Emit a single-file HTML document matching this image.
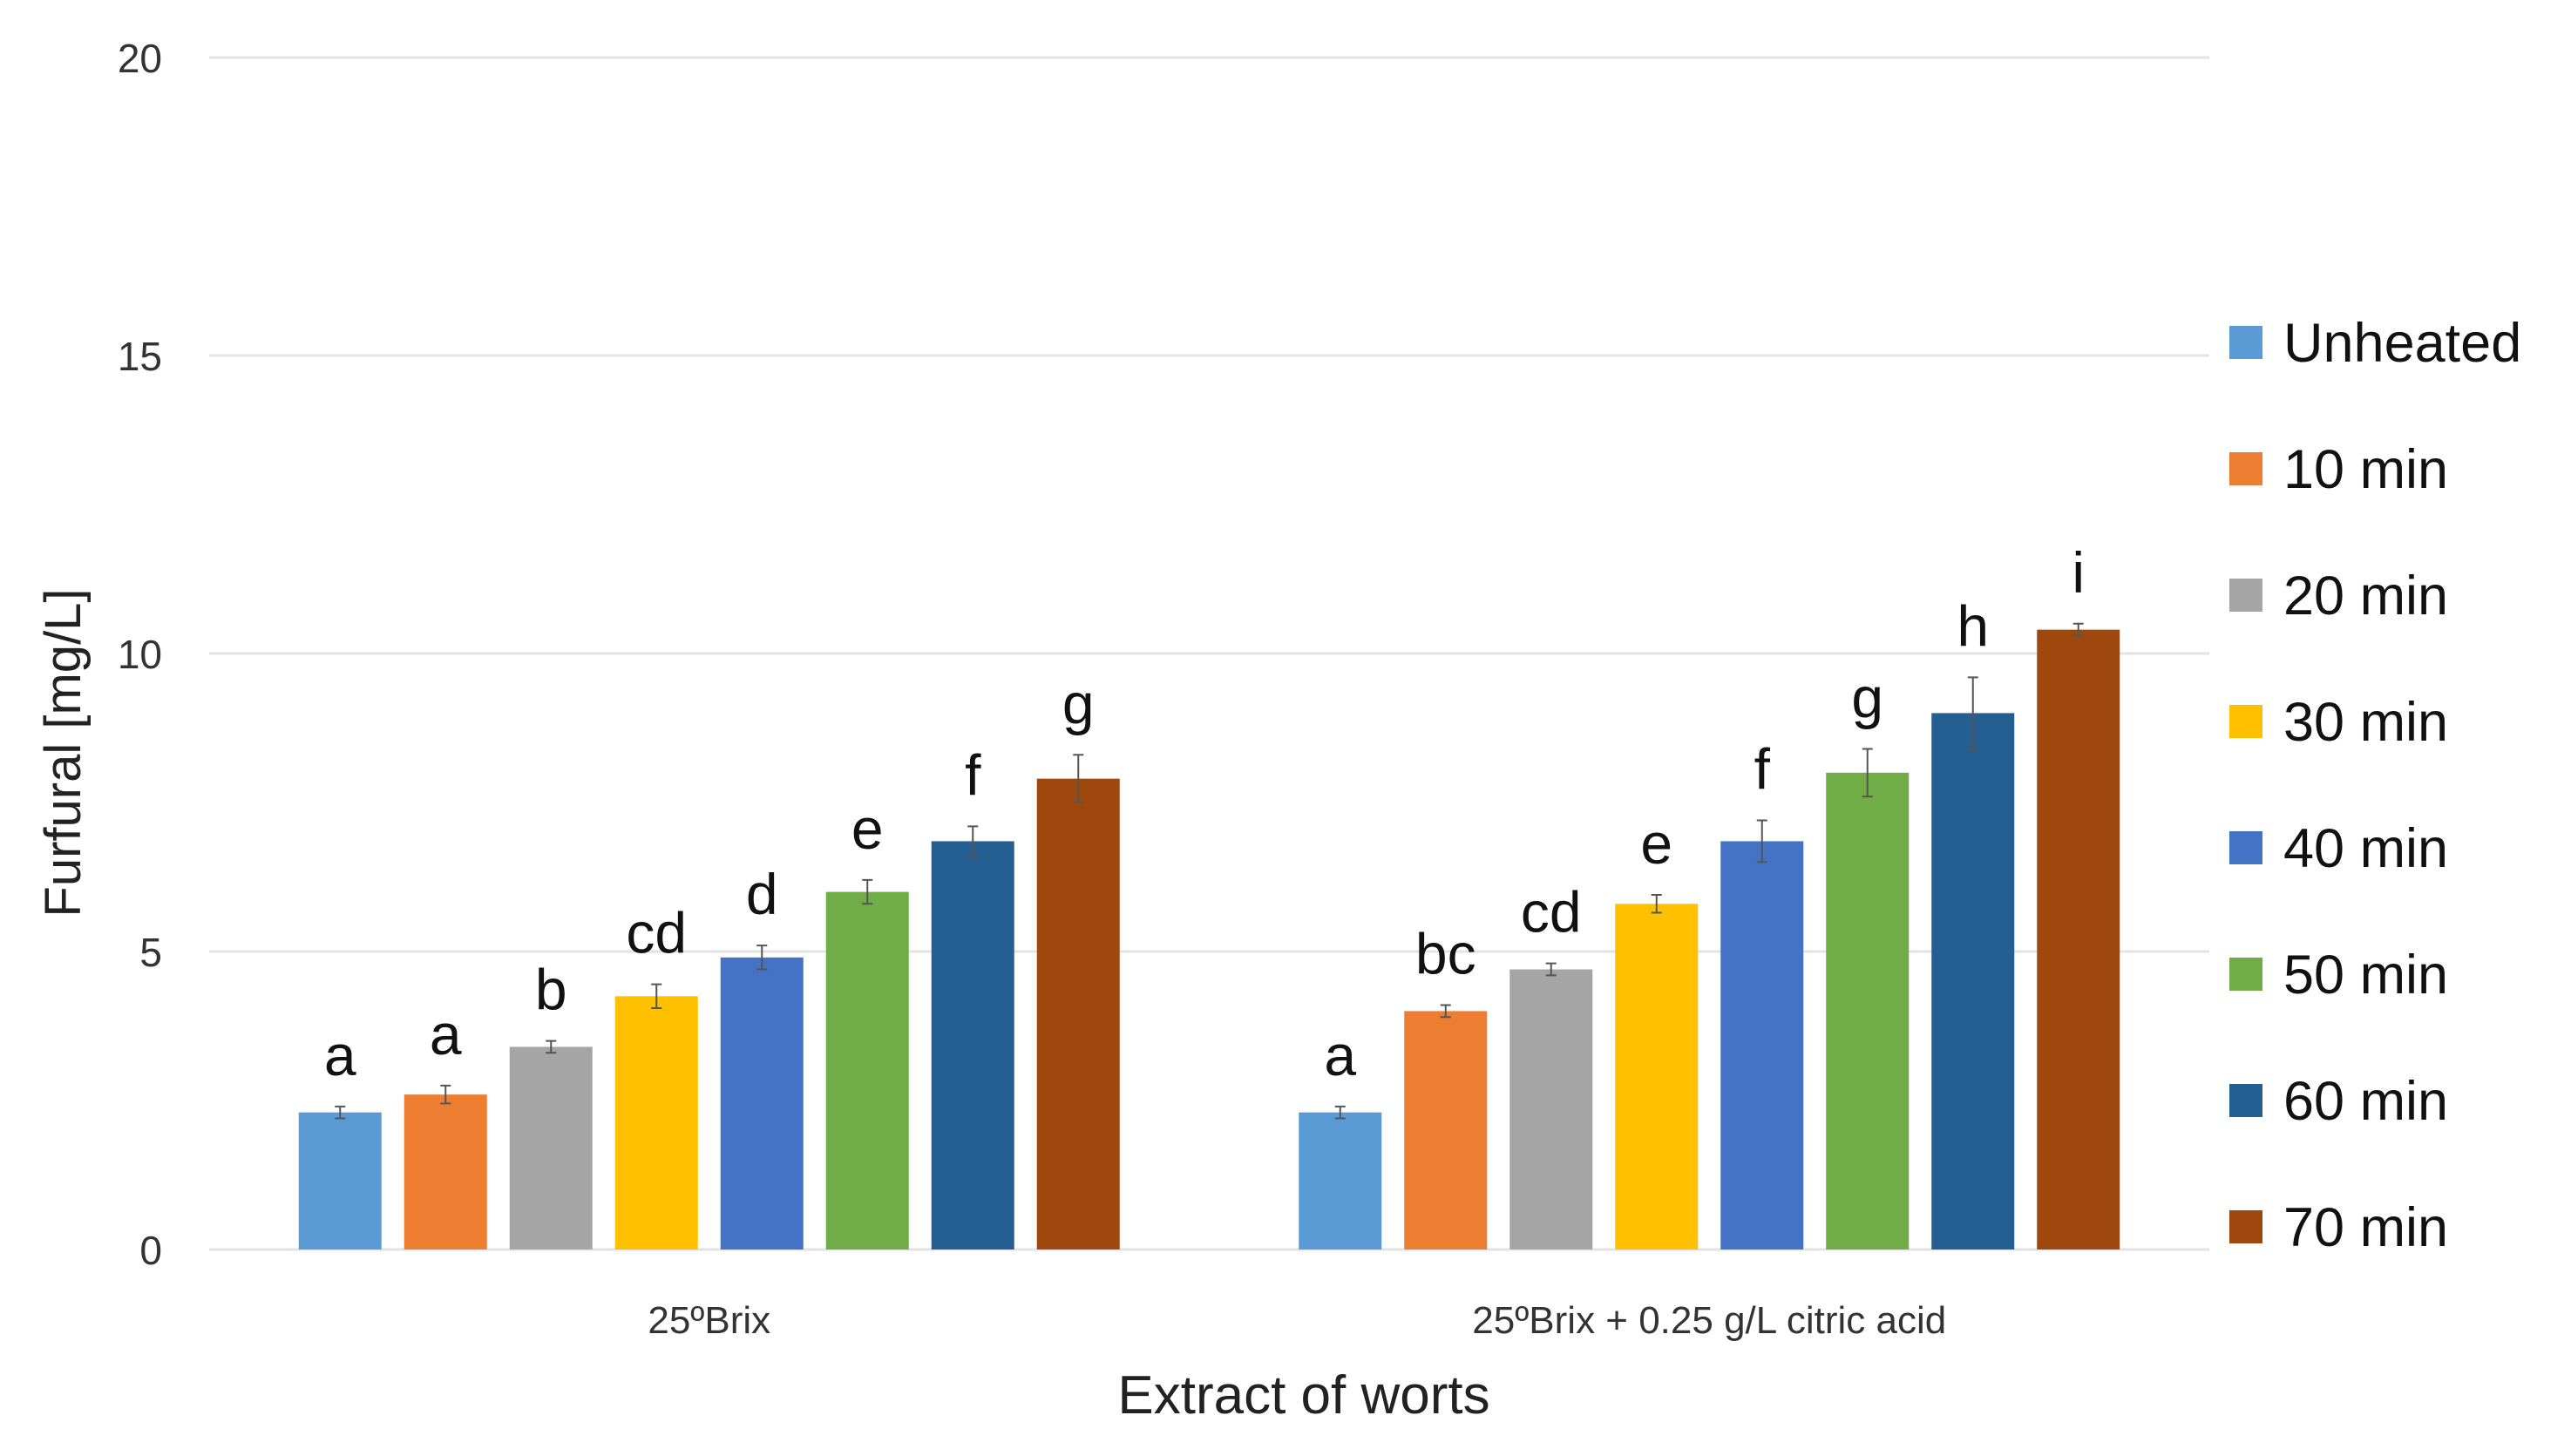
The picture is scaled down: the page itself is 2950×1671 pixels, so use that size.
<!DOCTYPE html>
<html><head><meta charset="utf-8"><style>
html,body{margin:0;padding:0;background:#fff;}
svg text{font-family:"Liberation Sans","DejaVu Sans",sans-serif;}
</style></head><body>
<svg id="chart" width="2950" height="1666" viewBox="0 0 2950 1666" xmlns="http://www.w3.org/2000/svg">
<g id="grid"></g>
<g id="yticks"></g>
<g id="bars"></g>
<g id="xcats"></g>
<g id="legend"></g>
<text transform="translate(92,864) rotate(-90)" text-anchor="middle" font-size="58" fill="#222">Furfural [mg/L]</text>
<text x="1496" y="1622" text-anchor="middle" font-size="62" fill="#222">Extract of worts</text>
</svg>
<script>
const categories = ["25ºBrix", "25ºBrix + 0.25 g/L citric acid"];
const seriesNames = ["Unheated","10 min","20 min","30 min","40 min","50 min","60 min","70 min"];
const brixValues = [2.3, 2.6, 3.4, 4.25, 4.9, 6.0, 6.85, 7.9];
const citricValues = [2.3, 4.0, 4.7, 5.8, 6.85, 8.0, 9.0, 10.4];
const brixErrors = [0.1, 0.15, 0.1, 0.2, 0.2, 0.2, 0.25, 0.4];
const citricErrors = [0.1, 0.1, 0.1, 0.15, 0.35, 0.4, 0.6, 0.1];
const brixLetters = ["a","a","b","cd","d","e","f","g"];
const citricLetters = ["a","bc","cd","e","f","g","h","i"];
const yTicks = [0, 5, 10, 15, 20];
const colors = ["#5B9BD5","#ED7D31","#A5A5A5","#FFC000","#4472C4","#70AD47","#255E91","#9E480E"];

const NS = "http://www.w3.org/2000/svg";
const L = 240, R = 2535, Y0 = 1434, Ytop = 66, YMAX = 20;
const y = v => Y0 - (v / YMAX) * (Y0 - Ytop);
const catW = (R - L) / categories.length;
const pitch = 121, barW = 95;
const x = (ci, si) => L + catW * ci + catW / 2 - pitch * seriesNames.length / 2 + si * pitch + (pitch - barW) / 2;
function mk(tag, attrs, parent) { const e = document.createElementNS(NS, tag); for (const k in attrs) e.setAttribute(k, attrs[k]); parent.appendChild(e); return e; }

const grid = document.getElementById('grid'), yt = document.getElementById('yticks');
yTicks.forEach(t => {
  const ln = mk('line', {x1: L, x2: R, y1: y(t), y2: y(t), stroke: '#e3e3e3', 'stroke-width': 3}, grid);
  
  
  const tx = mk('text', {x: 186, y: y(t) + 17, 'text-anchor': 'end', 'font-size': 46, fill: '#333'}, yt);
  tx.textContent = t;
  
  
});

const bars = document.getElementById('bars');
const allVals = [brixValues, citricValues], allErr = [brixErrors, citricErrors], allLet = [brixLetters, citricLetters];
categories.forEach((c, ci) => {
  seriesNames.forEach((s, si) => {
    const v = allVals[ci][si], e = allErr[ci][si];
    const bx = x(ci, si);
    const r = mk('rect', {x: bx, y: y(v), width: barW, height: Y0 - y(v), fill: colors[si]}, bars);
    
    
    const cx = bx + barW / 2;
    const eb = mk('path', {d: `M${cx},${y(v+e)}V${y(v-e)}M${cx-6},${y(v+e)}H${cx+6}M${cx-6},${y(v-e)}H${cx+6}`, stroke: '#555', 'stroke-width': 2, fill: 'none'}, bars);
    
    
    const lt = mk('text', {x: cx, y: y(v + e) - 36, 'text-anchor': 'middle', 'font-size': 66, fill: '#111'}, bars);
    lt.textContent = allLet[ci][si];
    
    
  });
  const ct = mk('text', {x: L + catW * ci + catW / 2, y: 1530, 'text-anchor': 'middle', 'font-size': 44, fill: '#333'}, document.getElementById('xcats'));
  ct.textContent = c;
  
  
});

const leg = document.getElementById('legend');
seriesNames.forEach((s, si) => {
  const cy = 393 + si * 145;
  const g = mk('g', {}, leg);
  
  
  mk('rect', {x: 2558, y: cy - 19, width: 38, height: 38, fill: colors[si]}, g);
  const t = mk('text', {x: 2620, y: cy + 22, 'font-size': 63, fill: '#111'}, g);
  t.textContent = s;
});
</script>
</body></html>
